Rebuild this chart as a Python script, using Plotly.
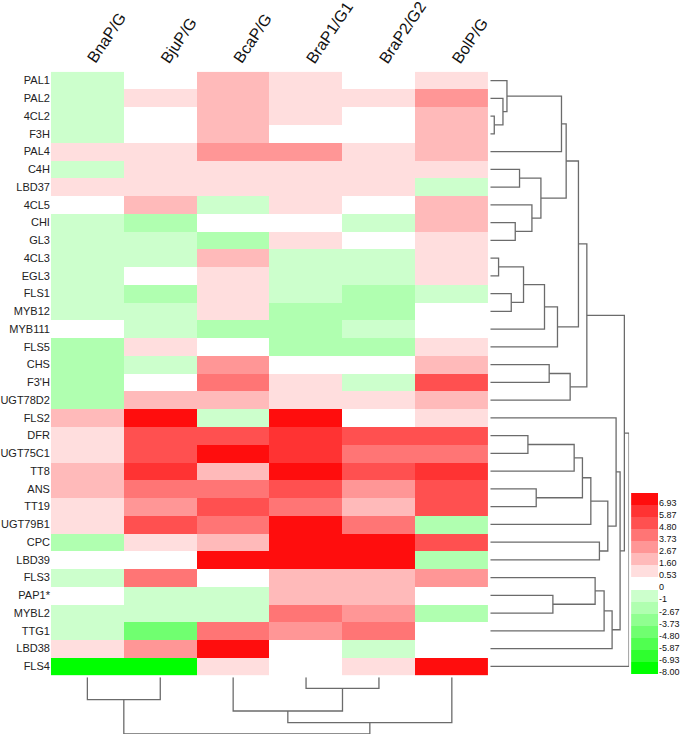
import numpy as np
import plotly.graph_objects as go

genes = ["PAL1", "PAL2", "4CL2", "F3H", "PAL4", "C4H", "LBD37", "4CL5", "CHI", "GL3",
         "4CL3", "EGL3", "FLS1", "MYB12", "MYB111", "FLS5", "CHS", "F3'H", "UGT78D2", "FLS2",
         "DFR", "UGT75C1", "TT8", "ANS", "TT19", "UGT79B1", "CPC", "LBD39", "FLS3", "PAP1*",
         "MYBL2", "TTG1", "LBD38", "FLS4"]
species = ["BnaP/G", "BjuP/G", "BcaP/G", "BraP1/G1", "BraP2/G2", "BolP/G"]

# estimated log2 ratios, read from the colour bins
bna = [-0.6, -0.6, -0.6, -0.6, 1.0, -0.6, 1.0, 0.2, -0.6, -0.6,
       -0.6, -0.6, -0.6, -0.6, 0.2, -1.8, -1.8, -1.8, -1.8, 2.0,
       1.0, 1.0, 2.0, 2.0, 1.0, 1.0, -1.8, 0.2, -0.6, 0.2,
       -0.6, -0.6, 1.0, -7.6]
bju = [0.2, 1.0, 0.2, 0.2, 1.0, 1.0, 1.0, 2.0, -1.8, -0.6,
       -0.6, 0.2, -1.8, -0.6, -0.6, 1.0, -0.6, 0.2, 2.0, 7.3,
       5.2, 5.2, 6.3, 4.2, 3.1, 5.2, 1.0, 0.2, 4.2, -0.6,
       -0.6, -4.3, 3.1, -7.6]
bca = [2.0, 2.0, 2.0, 2.0, 3.1, 1.0, 1.0, -0.6, 0.2, -1.8,
       2.0, 1.0, 1.0, 1.0, -1.8, 0.2, 3.1, 4.2, 2.0, -0.6,
       5.2, 7.3, 2.0, 4.2, 5.2, 4.2, 2.0, 7.3, 0.2, -0.6,
       -0.6, 4.2, 7.3, 1.0]
brap1 = [1.0, 1.0, 1.0, 0.2, 3.1, 1.0, 1.0, 1.0, 0.2, 1.0,
         -0.6, -0.6, -0.6, -1.8, -1.8, -1.8, 0.2, 1.0, 1.0, 7.3,
         6.3, 6.3, 7.3, 5.2, 4.2, 7.3, 7.3, 7.3, 2.0, 2.0,
         4.2, 3.1, 0.2, 0.2]
brap2 = [0.2, 1.0, 0.2, 0.2, 1.0, 1.0, 1.0, 0.2, -0.6, 0.2,
         -0.6, -0.6, -1.8, -1.8, -0.6, -1.8, 0.2, -0.6, 1.0, 0.2,
         5.2, 4.2, 5.2, 3.1, 2.0, 4.2, 7.3, 7.3, 2.0, 2.0,
         3.1, 4.2, -0.6, 1.0]
bol = [1.0, 3.1, 2.0, 2.0, 2.0, 1.0, -0.6, 2.0, 2.0, 1.0,
       1.0, 1.0, -0.6, 0.2, 0.2, 1.0, 2.0, 5.2, 2.0, 1.0,
       5.2, 4.2, 6.3, 5.2, 5.2, -1.8, 5.2, -1.8, 3.1, 0.2,
       -1.8, 0.2, 0.2, 7.3]

# colour key, bottom to top
bin_edges = [-6.93, -5.87, -4.80, -3.73, -2.67, -1, 0, 0.53, 1.60, 2.67, 3.73, 4.80, 5.87, 6.93]
bin_labels = ["-8.00", "-6.93", "-5.87", "-4.80", "-3.73", "-2.67", "-1", "0",
              "0.53", "1.60", "2.67", "3.73", "4.80", "5.87", "6.93"]
bin_colors = ["#00FF00", "#2EFF2E", "#50FF50", "#70FF70", "#90FF90", "#B0FFB0", "#CCFFCC", "#FFFFFF",
              "#FFDEDE", "#FFBABA", "#FF9696", "#FF7575", "#FF5050", "#FF3333", "#FF0D0D"]

# hierarchical clustering: (left, right, distance); ints refer to earlier merges
row_merges = [
    ("4CL2", "F3H", 4.0), ("PAL2", 0, 12.7), ("PAL1", 1, 16.7), (2, "PAL4", 71.3),
    ("C4H", "LBD37", 29.3), ("CHI", "GL3", 25.0), ("4CL5", 5, 41.7), (4, 6, 50.7),
    (3, 7, 76.0), ("4CL3", "EGL3", 8.3), ("FLS1", "MYB12", 21.0), (9, 10, 33.3),
    (11, "MYB111", 54.3), (12, "FLS5", 67.3), (8, 13, 88.3), ("CHS", "F3'H", 59.0),
    (15, "UGT78D2", 80.0), (14, 16, 96.7), ("DFR", "UGT75C1", 37.7), (18, "TT8", 84.0),
    ("ANS", "TT19", 46.0), (19, 20, 92.3), (21, "UGT79B1", 100.7), ("CPC", "LBD39", 109.3),
    (22, 23, 117.7), ("FLS2", 24, 126.0), ("PAP1*", "MYBL2", 62.7), ("FLS3", 26, 105.0),
    (27, "TTG1", 114.0), (28, "LBD38", 122.0), (25, 29, 130.0), (17, 30, 134.3),
    (31, "FLS4", 139.0),
]
col_merges = [
    ("BnaP/G", "BjuP/G", 21.7), ("BraP1/G1", "BraP2/G2", 10.7), ("BcaP/G", 1, 32.7),
    (2, "BolP/G", 44.0), (0, 3, 55.0),
]


def dendro_lines(merges, leaves):
    pos = {name: (i, 0.0) for i, name in enumerate(leaves)}
    p, d = [], []
    for k, (a, b, h) in enumerate(merges):
        pa, da = pos[a]
        pb, db = pos[b]
        p += [pa, pa, pb, pb, None]
        d += [da, h, h, db, None]
        pos[k] = ((pa + pb) / 2, h)
    return p, d


W, H = 680, 738


def fx(px):
    return px / W


def fy(py):
    return 1 - py / H


values = np.column_stack([bna, bju, bca, brap1, brap2, bol])
levels = np.digitize(values, bin_edges)

n = len(bin_colors)
colorscale = []
for i, c in enumerate(bin_colors):
    colorscale += [[i / n, c], [(i + 1) / n, c]]

fig = go.Figure()
fig.add_trace(go.Heatmap(
    z=levels, x=list(range(len(species))), y=list(range(len(genes))),
    zmin=-0.5, zmax=n - 0.5, colorscale=colorscale, showscale=False,
))

rp, rd = dendro_lines(row_merges, genes)
fig.add_trace(go.Scatter(x=rd, y=rp, mode="lines", xaxis="x2", yaxis="y",
                         line=dict(color="#6b6b6b", width=1.3), cliponaxis=False,
                         hoverinfo="skip", showlegend=False))

cp, cd = dendro_lines(col_merges, species)
fig.add_trace(go.Scatter(x=cp, y=cd, mode="lines", xaxis="x", yaxis="y3",
                         line=dict(color="#6b6b6b", width=1.3), cliponaxis=False,
                         hoverinfo="skip", showlegend=False))

# colour key
fig.add_trace(go.Heatmap(
    z=[[i] for i in range(n)], x=[0], y=list(range(n)), xaxis="x4", yaxis="y4",
    zmin=-0.5, zmax=n - 0.5, colorscale=colorscale, showscale=False,
))

for i, s in enumerate(species):
    fig.add_annotation(x=i, xref="x", y=fy(69), yref="paper", text=s, showarrow=False,
                       textangle=-56, xanchor="left", yanchor="bottom", xshift=-6,
                       font=dict(size=16, color="#111111"))

font = "Liberation Sans, Arial, sans-serif"
fig.update_layout(
    width=W, height=H,
    margin=dict(l=0, r=0, t=0, b=0),
    paper_bgcolor="white", plot_bgcolor="white",
    font=dict(family=font, color="#222222"),
    xaxis=dict(domain=[fx(50), fx(488)], range=[-0.5, 5.5], showticklabels=False,
               showgrid=False, zeroline=False, ticks=""),
    yaxis=dict(domain=[fy(678), fy(72)], range=[len(genes) - 0.5, -0.5],
               tickvals=list(range(len(genes))), ticktext=genes, ticks="",
               tickfont=dict(size=11, color="#222222"), showgrid=False, zeroline=False),
    xaxis2=dict(domain=[fx(490), fx(629)], range=[0, 139], anchor="y", visible=False),
    yaxis3=dict(domain=[fy(737), fy(680)], range=[55, 0], anchor="x", visible=False),
    xaxis4=dict(domain=[fx(631), fx(658)], range=[-0.5, 0.5], anchor="y4", visible=False),
    yaxis4=dict(domain=[fy(677), fy(495)], range=[-0.5, n - 0.5], anchor="x4", side="right",
                tickvals=[i - 0.3 for i in range(n)], ticktext=bin_labels, ticks="",
                ticklabelstandoff=0,
                tickfont=dict(size=9, color="#111111"), showgrid=False, zeroline=False),
)

fig.write_html("out.html", config={"displayModeBar": False},
               post_script="document.body.style.margin = '0';")
